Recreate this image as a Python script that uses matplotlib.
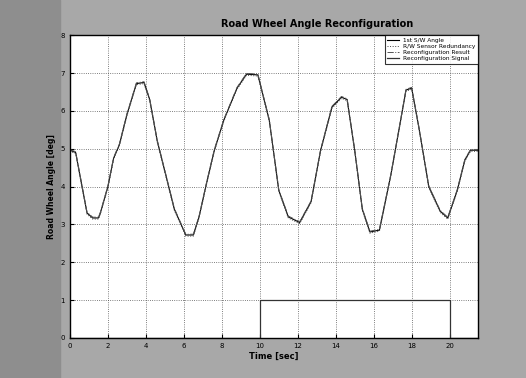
import numpy as np
import matplotlib.pyplot as plt

# time [sec] and road wheel angle
t = [0.0, 0.3, 0.9, 1.2, 1.5, 1.6, 2.0, 2.3, 2.6, 3.0, 3.5, 3.9, 4.2, 4.6, 4.9,
     5.5, 6.1, 6.5, 6.8, 7.2, 7.6, 8.1, 8.8, 9.3, 9.9, 10.5, 11.0, 11.5, 12.1,
     12.7, 13.2, 13.8, 14.3, 14.6, 15.0, 15.4, 15.8, 16.3, 16.9, 17.4, 17.7,
     18.0, 18.4, 18.9, 19.5, 19.9, 20.4, 20.8, 21.1, 21.5]
sw_angle = [4.96, 4.9, 3.3, 3.17, 3.17, 3.3, 4.0, 4.75, 5.1, 5.9, 6.72, 6.75, 6.3,
            5.2, 4.6, 3.4, 2.72, 2.72, 3.2, 4.1, 4.95, 5.75, 6.6, 6.97, 6.95,
            5.75, 3.9, 3.2, 3.05, 3.6, 4.95, 6.1, 6.36, 6.3, 4.95, 3.4, 2.8,
            2.85, 4.3, 5.7, 6.55, 6.6, 5.5, 4.0, 3.35, 3.17, 3.9, 4.7, 4.96, 4.96]
# redundant sensor and reconfiguration result follow the S/W angle closely
rw_sensor = [v - 0.03 for v in sw_angle]
reconf_result = [v + 0.02 for v in sw_angle]

sig_t = [0, 10, 10, 20, 20, 21.5]
sig_v = [0, 0, 1, 1, 0, 0]

fig = plt.figure(figsize=(5.26, 3.78), dpi=100)
fig.patch.set_facecolor('#a8a8a8')
# slightly darker band on the left side of the scan
fig.patches.append(plt.Rectangle((0, 0), 0.115, 1, transform=fig.transFigure,
                                 color='#8e8e8e', zorder=-1))
ax = fig.add_axes([0.133, 0.106, 0.776, 0.801])
ax.set_facecolor('white')

ax.plot(t, sw_angle, color='black', lw=0.8, label='1st S/W Angle')
ax.plot(t, rw_sensor, color='#444444', lw=0.7, ls=':', label='R/W Sensor Redundancy')
ax.plot(t, reconf_result, color='#555555', lw=0.7, ls='-.', label='Reconfiguration Result')
ax.plot(sig_t, sig_v, color='#333333', lw=0.9, label='Reconfiguration Signal')

ax.set_xlim(0, 21.5)
ax.set_ylim(0, 8)
ax.set_xticks(np.arange(0, 21, 2))
ax.set_yticks(np.arange(0, 9, 1))
ax.grid(True, color='#555555', ls=':', lw=0.6)
ax.tick_params(direction='in', labelsize=5, length=3)
for s in ax.spines.values():
    s.set_linewidth(1.0)

ax.set_title('Road Wheel Angle Reconfiguration', fontsize=7, fontweight='bold',
             pad=6, x=0.605)
ax.set_xlabel('Time [sec]', fontsize=6, fontweight='bold', labelpad=2)
ax.set_ylabel('Road Wheel Angle [deg]', fontsize=5.5, fontweight='bold', labelpad=3)

leg = ax.legend(loc='upper right', fontsize=4.2, frameon=True, fancybox=False,
                edgecolor='black', borderpad=0.4, handlelength=2.0, labelspacing=0.2,
                borderaxespad=0)
leg.get_frame().set_linewidth(0.8)

fig.savefig('out.png', dpi=100, facecolor=fig.get_facecolor())
